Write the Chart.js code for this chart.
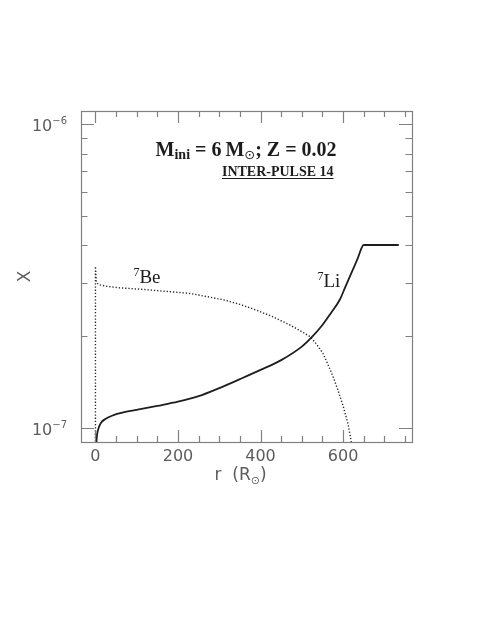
<!DOCTYPE html>
<html><head><meta charset="utf-8">
<script src="https://cdn.jsdelivr.net/npm/chart.js@4/dist/chart.umd.min.js"></script>
<style>html,body{margin:0;padding:0;background:#fff;}canvas{display:block;}</style>
</head><body>
<canvas id="c" width="480" height="621"></canvas>
<script>
// ---- data ----
const liR = [2, 4, 8, 14, 25, 40, 70, 100, 150, 200, 250, 300, 350, 400, 450, 500, 523, 550, 570, 592, 605, 620, 635, 650, 735];
const liX = [8.8e-8, 9.5e-8, 1.0e-7, 1.04e-7, 1.07e-7, 1.095e-7, 1.125e-7, 1.145e-7, 1.18e-7, 1.218e-7, 1.27e-7, 1.35e-7, 1.445e-7, 1.55e-7, 1.67e-7, 1.85e-7, 1.98e-7, 2.18e-7, 2.38e-7, 2.64e-7, 2.9e-7, 3.23e-7, 3.6e-7, 4.0e-7, 4.0e-7];
const beR = [0, 0, 2, 8, 30, 60, 108, 150, 229, 310, 350, 390, 430, 471, 490, 519, 535, 551, 563, 576, 588, 600, 612, 621];
const beX = [8.8e-8, 3.4e-7, 3.02e-7, 2.96e-7, 2.92e-7, 2.89e-7, 2.86e-7, 2.83e-7, 2.77e-7, 2.64e-7, 2.55e-7, 2.44e-7, 2.32e-7, 2.18e-7, 2.11e-7, 2.0e-7, 1.89e-7, 1.76e-7, 1.62e-7, 1.47e-7, 1.325e-7, 1.18e-7, 1.03e-7, 8.8e-8];

const xMajorTicks = [0, 200, 400, 600];
const xTickLabels = ['0', '200', '400', '600'];
const xMinorTicks = [50, 100, 150, 250, 300, 350, 450, 500, 550, 650, 700, 750];
const yMajorTicks = [1e-7, 1e-6];
const yTickExponents = ['\u22127', '\u22126'];
const yMinorTicks = [2e-7, 3e-7, 4e-7, 5e-7, 6e-7, 7e-7, 8e-7, 9e-7];

const AXIS_COLOR = '#808080';
const LABEL_COLOR = '#5c5c5c';
const TEXT_COLOR = '#1c1c1c';
const LABEL_FONT = '"DejaVu Sans", sans-serif';
const SERIF = '"Liberation Serif", "Times New Roman", serif';

function drawSegments(ctx, segs, x, y, align) {
  let total = 0;
  segs.forEach(s => { ctx.font = s.font; total += ctx.measureText(s.t).width; });
  let cx = align === 'center' ? x - total / 2 : (align === 'right' ? x - total : x);
  const start = cx;
  segs.forEach(s => {
    ctx.font = s.font;
    ctx.fillText(s.t, cx, y + (s.dy || 0));
    cx += ctx.measureText(s.t).width;
  });
  return [start, cx];
}

const frame = {
  id: 'frame',
  afterDatasetsDraw(chart) {
    const {ctx, chartArea: a, scales: {x, y}} = chart;
    ctx.save();
    ctx.strokeStyle = AXIS_COLOR;
    ctx.lineWidth = 1.2;
    ctx.strokeRect(a.left + 0.5, a.top + 0.5, a.right - a.left, a.bottom - a.top);
    ctx.beginPath();
    const xt = (v, len) => {
      const px = Math.round(x.getPixelForValue(v)) + 0.5;
      ctx.moveTo(px, a.bottom); ctx.lineTo(px, a.bottom - len);
      ctx.moveTo(px, a.top); ctx.lineTo(px, a.top + len);
    };
    const yt = (v, len) => {
      const py = Math.round(y.getPixelForValue(v)) + 0.5;
      ctx.moveTo(a.left, py); ctx.lineTo(a.left + len, py);
      ctx.moveTo(a.right, py); ctx.lineTo(a.right - len, py);
    };
    xMajorTicks.forEach(v => xt(v, 12));
    xMinorTicks.forEach(v => xt(v, 6));
    yMajorTicks.forEach(v => yt(v, 13));
    yMinorTicks.forEach(v => yt(v, 6.5));
    ctx.stroke();

    // y tick labels 10^n
    ctx.fillStyle = LABEL_COLOR;
    ctx.textAlign = 'left';
    ctx.textBaseline = 'alphabetic';
    yMajorTicks.forEach((v, i) => {
      const py = y.getPixelForValue(v);
      drawSegments(ctx, [
        {t: '10', font: '16px ' + LABEL_FONT},
        {t: yTickExponents[i], font: '10px ' + LABEL_FONT, dy: -7}
      ], a.left - 14, py + 7, 'right');
    });

    // x axis title r (R_sun)
    drawSegments(ctx, [
      {t: 'r  (R', font: '17px ' + LABEL_FONT},
      {t: '\u2299', font: '11px ' + LABEL_FONT, dy: 4},
      {t: ')', font: '17px ' + LABEL_FONT}
    ], (a.left + a.right) / 2 - 6, 480, 'center');

    // annotations
    ctx.fillStyle = TEXT_COLOR;
    drawSegments(ctx, [
      {t: 'M', font: 'bold 20px ' + SERIF},
      {t: 'ini', font: 'bold 14px ' + SERIF, dy: 3},
      {t: ' = 6\u2009M', font: 'bold 20px ' + SERIF},
      {t: '\u2299', font: '13px ' + LABEL_FONT, dy: 3},
      {t: '; Z = 0.02', font: 'bold 20px ' + SERIF}
    ], x.getPixelForValue(365), y.getPixelForValue(7.86e-7), 'center');

    const [s0, s1] = drawSegments(ctx, [
      {t: 'INTER-PULSE 14', font: 'bold 14px ' + SERIF}
    ], x.getPixelForValue(577), y.getPixelForValue(6.75e-7), 'right');
    const uy = Math.round(y.getPixelForValue(6.75e-7)) + 2.5;
    ctx.strokeStyle = TEXT_COLOR; ctx.lineWidth = 1;
    ctx.beginPath(); ctx.moveTo(s0, uy); ctx.lineTo(s1, uy); ctx.stroke();

    drawSegments(ctx, [
      {t: '7', font: '12px ' + SERIF, dy: -7},
      {t: 'Be', font: '19px ' + SERIF}
    ], x.getPixelForValue(92), y.getPixelForValue(3.0e-7), 'left');
    drawSegments(ctx, [
      {t: '7', font: '12px ' + SERIF, dy: -7},
      {t: 'Li', font: '19px ' + SERIF}
    ], x.getPixelForValue(538), y.getPixelForValue(2.9e-7), 'left');
    ctx.restore();
  }
};

new Chart(document.getElementById('c'), {
  type: 'scatter',
  data: {
    datasets: [
      {
        label: '7Li',
        data: liR.map((r, i) => ({x: r, y: liX[i]})),
        showLine: true, borderColor: '#1e1e1e', borderWidth: 1.8,
        pointRadius: 0, cubicInterpolationMode: 'monotone', fill: false
      },
      {
        label: '7Be',
        data: beR.map((r, i) => ({x: r, y: beX[i]})),
        showLine: true, borderColor: '#2a2a2a', borderWidth: 1.4, borderDash: [1.3, 1.9],
        pointRadius: 0, tension: 0, fill: false
      }
    ]
  },
  plugins: [frame],
  options: {
    responsive: false, animation: false, devicePixelRatio: 1,
    layout: {padding: {left: 0, top: 111, right: 68, bottom: 119}},
    plugins: {legend: {display: false}, tooltip: {enabled: false}, title: {display: false}},
    scales: {
      x: {
        type: 'linear', min: -35, max: 767,
        afterFit: s => { s.height = 60; },
        afterBuildTicks: s => { s.ticks = xMajorTicks.map(v => ({value: v})); },
        grid: {display: false, drawTicks: false},
        border: {display: false},
        ticks: {
          padding: 5, color: LABEL_COLOR, font: {family: 'DejaVu Sans', size: 16},
          maxRotation: 0, autoSkip: false,
          callback: (v) => { const i = xMajorTicks.indexOf(v); return i >= 0 ? xTickLabels[i] : ''; }
        }
      },
      y: {
        type: 'logarithmic', min: 8.97e-8, max: 1.106e-6,
        afterFit: s => { s.width = 81; },
        afterBuildTicks: s => { s.ticks = yMajorTicks.map(v => ({value: v})); },
        grid: {display: false, drawTicks: false},
        border: {display: false},
        ticks: {display: false},
        title: {display: true, text: 'X', color: LABEL_COLOR, font: {family: 'DejaVu Sans', size: 17}, padding: {top: 15, bottom: 0}}
      }
    }
  }
});
</script>
</body></html>
